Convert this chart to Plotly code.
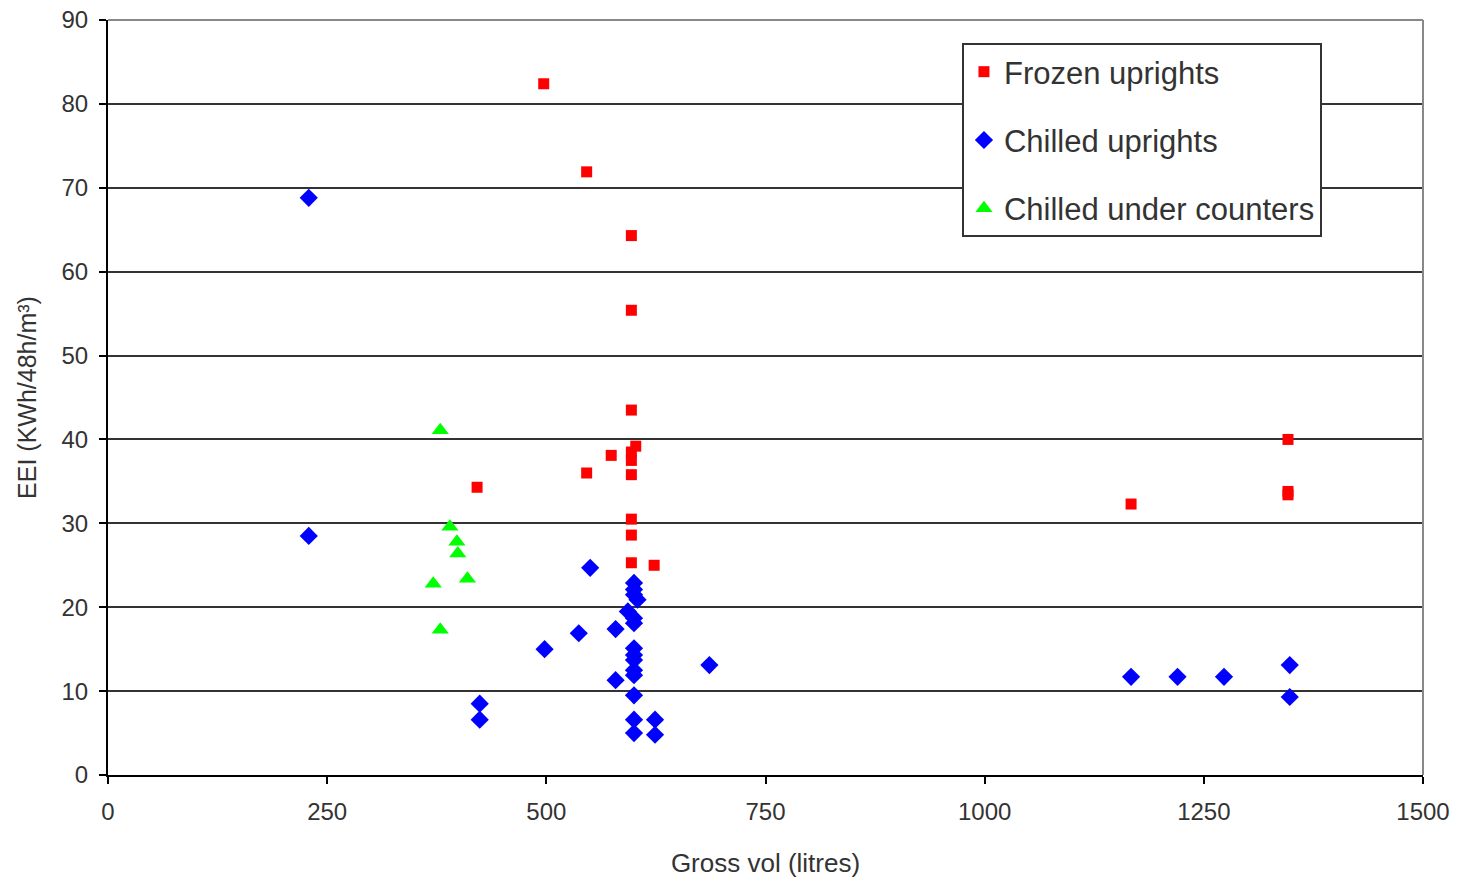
import plotly.graph_objects as go

# Frozen uprights
frozen_x = [497, 546, 597, 597, 597, 602, 597, 597, 574, 546, 597, 597, 597, 597, 623, 421, 1167, 1346, 1346, 1346]
frozen_y = [82.4, 71.9, 64.3, 55.4, 43.5, 39.2, 38.5, 37.5, 38.1, 36.0, 35.8, 30.5, 28.6, 25.3, 25.0, 34.3, 32.3, 40.0, 33.4, 33.8]

# Chilled uprights
chilled_x = [229, 229, 550, 424, 424, 498, 537, 579, 579, 686,
             600, 600, 600, 604, 593, 600, 600, 600, 600, 600, 600, 600, 600, 600, 600,
             624, 624, 1167, 1220, 1273, 1348, 1348]
chilled_y = [68.8, 28.5, 24.7, 8.5, 6.6, 15.0, 16.9, 17.4, 11.3, 13.1,
             22.9, 22.1, 21.5, 20.9, 19.5, 18.7, 18.1, 15.1, 14.3, 13.7, 12.5, 11.9, 9.5, 6.6, 5.0,
             6.6, 4.8, 11.7, 11.7, 11.7, 13.1, 9.3]

# Chilled under counters
under_x = [379, 390, 398, 399, 371, 410, 379]
under_y = [41.1, 29.6, 27.8, 26.4, 22.8, 23.4, 17.3]

x_ticks = [0, 250, 500, 750, 1000, 1250, 1500]
y_ticks = [0, 10, 20, 30, 40, 50, 60, 70, 80, 90]

fig = go.Figure()
fig.add_trace(go.Scatter(x=frozen_x, y=frozen_y, mode="markers", name="Frozen uprights",
                         legendgroup="a",
                         marker=dict(symbol="square", size=11, color="#FF0000")))
fig.add_trace(go.Scatter(x=chilled_x, y=chilled_y, mode="markers", name="Chilled uprights",
                         legendgroup="b",
                         marker=dict(symbol="diamond", size=14, color="#0000FF")))
fig.add_trace(go.Scatter(x=under_x, y=under_y, mode="markers", name="Chilled under counters",
                         legendgroup="c",
                         marker=dict(symbol="triangle-up", size=15, color="#00FF00")))

font = "Liberation Sans, Arial, sans-serif"
fig.update_layout(
    width=1465, height=881,
    margin=dict(l=108, r=42, t=20, b=106),
    paper_bgcolor="white", plot_bgcolor="white",
    font=dict(family=font, size=24, color="#333"),
    showlegend=True,
    legend=dict(x=0.6494, y=0.9695, xanchor="left", yanchor="top",
                bgcolor="white", bordercolor="#333", borderwidth=2,
                font=dict(size=31, color="#333"),
                traceorder="grouped", tracegroupgap=25),
    xaxis=dict(range=[0, 1500], tickvals=x_ticks, showgrid=False, zeroline=False,
               showline=True, linecolor="#000", linewidth=2, automargin=False,
               ticks="outside", ticklen=7, tickcolor="#000", tickwidth=2,
               ticklabelstandoff=7,
               title=dict(text="Gross vol (litres)", font=dict(size=26), standoff=30)),
    yaxis=dict(range=[0, 90], tickvals=y_ticks, showgrid=True, gridcolor="#333", gridwidth=2,
               zeroline=False, showline=True, linecolor="#000", linewidth=2, automargin=False,
               ticks="outside", ticklen=7, tickcolor="#000", tickwidth=2,
               ticklabelstandoff=6,
               title=dict(text="EEI (KWh/48h/m³)", font=dict(size=25), standoff=18)),
    shapes=[dict(type="line", xref="paper", yref="paper", x0=1, x1=1, y0=0, y1=1,
                 line=dict(color="#888", width=2)),
            dict(type="line", xref="paper", yref="paper", x0=0, x1=1, y0=1, y1=1,
                 line=dict(color="#888", width=2))],
)

fig.write_html("out.html")
